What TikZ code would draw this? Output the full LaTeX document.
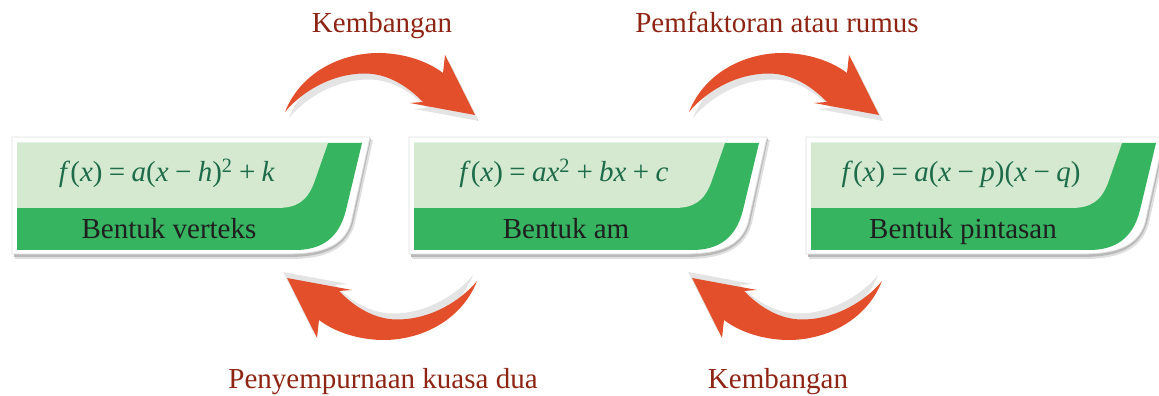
\documentclass[tikz,border=0pt]{standalone}
\usepackage{fontspec}
\setmainfont{Liberation Serif}
\usetikzlibrary{positioning,calc}
\definecolor{lightleaf}{HTML}{D4E9CF}
\definecolor{darkleaf}{HTML}{36B460}
\definecolor{formink}{HTML}{1D6B4A}
\definecolor{bendred}{HTML}{E34E2B}
\definecolor{bendink}{HTML}{8E2413}
\definecolor{bendgray}{HTML}{E4E4E4}

\newcommand{\ix}[1]{\textit{#1}}
\newcommand{\op}[1]{\hspace{0.22em}#1\hspace{0.22em}}

% one green card: name, left edge, formula, label
\newcommand{\formcard}[4]{%
  \begin{scope}[shift={(#2,253)}]
    \fill[gray!25] (-2,3) -- (356,3) -- (338,-80) .. controls (330,-110) and (302,-116) .. (272,-116) -- (-2,-116) -- cycle;
    \fill[gray!55] (-3,4) -- (354,4) -- (336,-80) .. controls (328,-108) and (301,-114) .. (271,-114) -- (-3,-114) -- cycle;
    \filldraw[fill=white, draw=gray!25, line width=0.8pt] (-5,6) -- (353,6) -- (334,-80) .. controls (326,-106) and (300,-111) .. (270,-111) -- (-5,-111) -- cycle;
    \fill[darkleaf] (0,0) -- (345,0) -- (329,-67) .. controls (322,-95) and (305,-107) .. (278,-107) -- (0,-107) -- cycle;
    \fill[lightleaf] (0,0) -- (311,0) -- (297,-40) .. controls (290,-58) and (280,-65) .. (260,-65) -- (0,-65) -- cycle;
    \node[formtext] (#1f) at (150,-39) {#3};
    \node[cardtext] (#1l) at (152,-96) {#4};
  \end{scope}}

\tikzset{
  formtext/.style={text=formink, inner sep=0pt, anchor=base},
  cardtext/.style={text=black!88, inner sep=0pt, anchor=base},
  bendtext/.style={text=bendink, inner sep=0pt, anchor=base},
  bentarrow/.pic={
    \fill[bendgray] (-91,-4.5) .. controls (-76,34) and (-36,55) .. (4,54.5) .. controls (29,54) and (52,46) .. (67,34.5) -- (69,52.5) -- (99,-7.5) -- (34,4.5) -- (47,5.5) .. controls (29,24) and (9,34) .. (-11,34) .. controls (-46,34) and (-76,14) .. (-91,-4.5) -- cycle;
    \fill[bendred] (-95,1.5) .. controls (-80,40) and (-40,61) .. (0,60.5) .. controls (25,60) and (48,52) .. (63,40.5) -- (65,58.5) -- (95,-1.5) -- (30,10.5) -- (43,11.5) .. controls (25,30) and (5,40) .. (-15,40) .. controls (-50,40) and (-80,20) .. (-95,1.5) -- cycle;
  }
}

\begin{document}
\begin{tikzpicture}[x=1pt, y=1pt, font=\fontsize{29}{34}\selectfont]
  \useasboundingbox (0,0) rectangle (1159,396);

  \formcard{vert}{17}{\ix{f}(\ix{x})\op{=}\ix{a}(\ix{x}\op{−}\ix{h})\textsuperscript{2}\op{+}\ix{k}}{Bentuk verteks}
  \formcard{am}{414}{\ix{f}(\ix{x})\op{=}\ix{ax}\textsuperscript{2}\op{+}\ix{bx}\op{+}\ix{c}}{Bentuk am}
  \formcard{pint}{811}{\ix{f}(\ix{x})\op{=}\ix{a}(\ix{x}\op{−}\ix{p})(\ix{x}\op{−}\ix{q})}{Bentuk pintasan}

  % swooping arrows
  \pic at (380,282.5) {bentarrow};
  \pic at (784,282.5) {bentarrow};
  \pic[rotate=180] at (382,116.5) {bentarrow};
  \pic[rotate=180] at (787,116.5) {bentarrow};

  \node[bendtext] (kembtop) at (382,363) {Kembangan};
  \node[bendtext] (faktor) at (777,363) {Pemfaktoran atau rumus};
  \node[bendtext] (sempurna) at (383,7) {Penyempurnaan kuasa dua};
  \node[bendtext] (kembbot) at (778,7) {Kembangan};
\end{tikzpicture}
\end{document}
